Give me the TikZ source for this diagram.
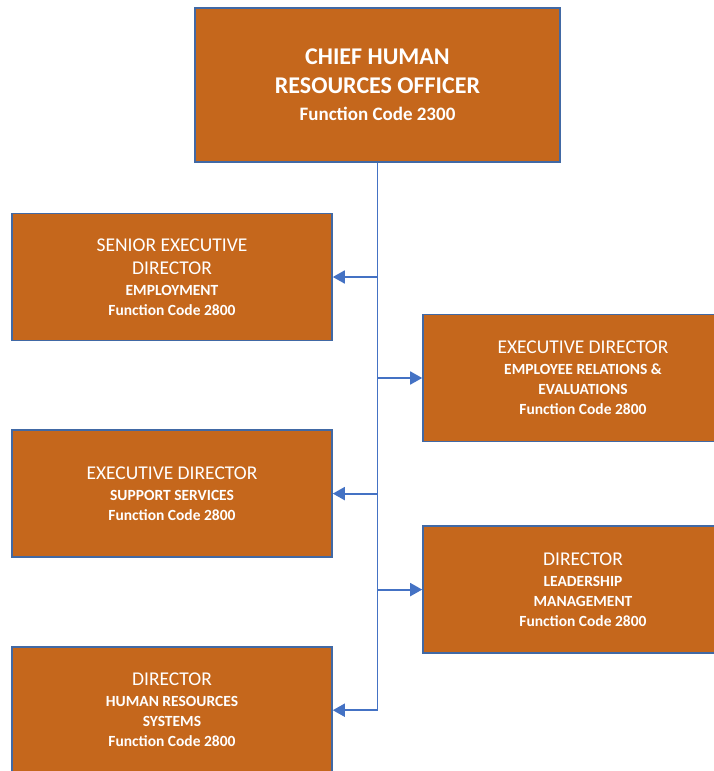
\documentclass[tikz,border=0pt]{standalone}
\usepackage{fontspec}
\setmainfont{Carlito}
\usepackage{tikz}
\usetikzlibrary{positioning}
\usetikzlibrary{arrows.meta}
\definecolor{boxfill}{RGB}{197,103,28}
\definecolor{boxedge}{RGB}{65,105,165}
\definecolor{linkblue}{RGB}{68,114,196}
\newcommand{\headfont}{\fontsize{24}{29}\selectfont\bfseries}
\newcommand{\headcode}{\fontsize{19}{27}\selectfont\bfseries}
\newcommand{\titlefont}{\fontsize{19.5}{23}\selectfont\mdseries}
\newcommand{\subfont}{\fontsize{15.5}{20}\selectfont\bfseries}

\begin{document}
\begin{tikzpicture}[x=1pt, y=1pt,
    orgbox/.style={draw=boxedge, line width=1.6pt, fill=boxfill, text=white, align=center,
        inner sep=0pt, minimum width=320pt, minimum height=127pt, font=\subfont},
    link/.style={draw=linkblue, line width=1.8pt, -{Triangle[length=12pt,width=13pt]}}]
    \clip (0,0) rectangle (714,-771);

    \node[orgbox, minimum width=365pt, minimum height=154pt, font=\headcode] (chro) at (377.5,-85)
        {\headfont CHIEF HUMAN\\[2pt] \headfont RESOURCES OFFICER\\ \headcode Function Code 2300};

    % left column
    \node[orgbox] (emp) at (172,-277)
        {\titlefont SENIOR EXECUTIVE\\[3pt] \titlefont DIRECTOR\\[1pt] EMPLOYMENT\\ Function Code 2800};
    \node[orgbox, below=88pt of emp] (sup)
        {\titlefont EXECUTIVE DIRECTOR\\[1pt] SUPPORT SERVICES\\ Function Code 2800};
    \node[orgbox, below=88pt of sup] (hrs)
        {\titlefont DIRECTOR\\[1pt] HUMAN RESOURCES\\ SYSTEMS\\ Function Code 2800};

    % right column
    \node[orgbox] (rel) at (583,-378)
        {\titlefont EXECUTIVE DIRECTOR\\[1pt] EMPLOYEE RELATIONS \&\\ EVALUATIONS\\ Function Code 2800};
    \node[orgbox, below=83pt of rel] (lead)
        {\titlefont DIRECTOR\\[1pt] LEADERSHIP\\ MANAGEMENT\\ Function Code 2800};

    \draw[link] (chro.south) |- (hrs.east);
    \foreach \n in {emp,sup}
        \draw[link] (chro.south |- \n.east) -- (\n.east);
    \foreach \n in {rel,lead}
        \draw[link] (chro.south |- \n.west) -- (\n.west);
\end{tikzpicture}
\end{document}
